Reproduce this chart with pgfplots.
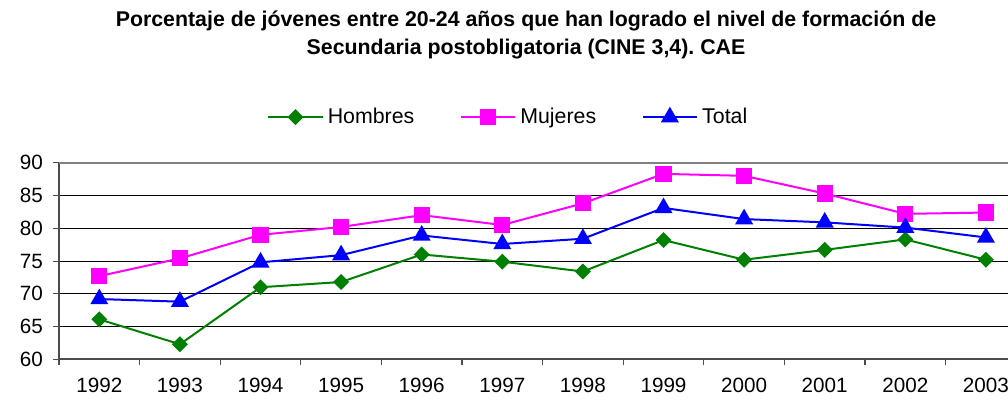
\documentclass[border=0pt]{standalone}
\usepackage{pgfplots}
\pgfplotsset{compat=1.18}
\usepackage{fontspec}
\setmainfont{Liberation Sans}
\frenchspacing
\definecolor{cH}{RGB}{0,128,0}
\definecolor{cM}{RGB}{255,0,255}
\definecolor{cT}{RGB}{0,0,255}
\pgfplotstableread{
x H M T
0 66.1 72.7 69.2
1 62.3 75.4 68.8
2 71.0 79.0 74.8
3 71.8 80.2 75.9
4 76.0 82.0 78.9
5 74.9 80.5 77.6
6 73.4 83.8 78.4
7 78.2 88.3 83.1
8 75.2 88.0 81.4
9 76.7 85.3 80.9
10 78.3 82.2 80.1
11 75.2 82.4 78.6
}\datatable
\begin{document}
\begin{tikzpicture}[x=0.75pt,y=0.75pt]
\path[use as bounding box] (0,0) rectangle (1008,400);
\node[font=\bfseries\fontsize{16}{19}\selectfont, anchor=base, inner sep=0pt] at (526,373) {Porcentaje de jóvenes entre 20-24 años que han logrado el nivel de formación de};
\node[font=\bfseries\fontsize{16}{19}\selectfont, anchor=base, inner sep=0pt] at (526,345) {Secundaria postobligatoria (CINE 3,4). CAE};
\begin{axis}[
  at={(44.25pt,30.5pt)}, anchor=south west,
  scale only axis, width=711.75pt, height=147.45pt,
  xmin=-0.5, xmax=11.274, ymin=60, ymax=90,
  ytick={60,65,...,90},
  xtick={0,...,11},
  xticklabels={1992,1993,1994,1995,1996,1997,1998,1999,2000,2001,2002,2003},
  minor xtick={-0.5,0.5,...,10.5},
  major x tick style={draw=none},
  tick align=outside,
  major tick length=4.5pt, minor tick length=4.5pt,
  tick style={gray!60!black, line width=0.8pt},
  axis x line*=bottom, axis y line*=left,
  axis line style={gray!60!black, line width=1.5pt},
  ymajorgrids, grid style={black, line width=0.75pt},
  ticklabel style={font=\fontsize{15.5}{18}\selectfont},
  /pgf/number format/assume math mode=true,
  xticklabel style={yshift=-6pt},
  yticklabel style={xshift=-4pt},
  legend columns=3,
  legend style={draw=none, fill=none, at={(0.4737,1.232)}, anchor=center,
    font=\fontsize{16}{19}\selectfont,
    /tikz/every odd column/.append style={column sep=1pt},
    /tikz/every even column/.append style={column sep=32pt}},
  legend image code/.code={
    \draw[mark repeat=2,mark phase=2,#1] plot coordinates {(0pt,0pt) (20.5pt,0pt) (41pt,0pt)};},
]
\draw[gray, line width=1.5pt] (axis cs:-0.5,90) -- (axis cs:11.274,90);
\addplot[cH, line width=1.5pt, mark=diamond*, mark size=4.9pt, mark options={solid, xscale=1.33}] table[x=x,y=H]{\datatable};
\addlegendentry{Hombres}
\addplot[cM, line width=1.5pt, mark=square*, mark size=5.3pt] table[x=x,y=M]{\datatable};
\addlegendentry{Mujeres}
\addplot[cT, line width=1.5pt, mark=triangle*, mark size=6.3pt] table[x=x,y=T]{\datatable};
\addlegendentry{Total}
\end{axis}
\end{tikzpicture}
\end{document}
